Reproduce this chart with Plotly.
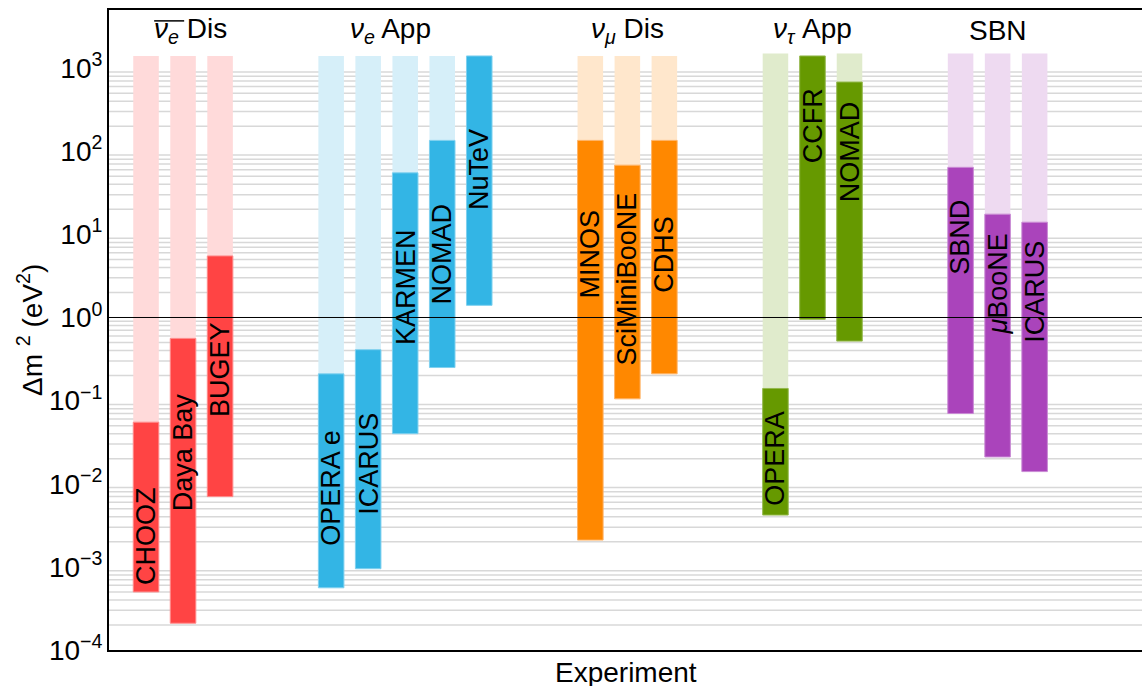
import math
import plotly.graph_objects as go

# Oscillation channels and the experiments in each
groups = ["<i>ν</i><sub><i>e</i></sub> Dis", "<i>ν</i><sub><i>e</i></sub> App",
          "<i>ν</i><sub><i>μ</i></sub> Dis", "<i>ν</i><sub><i>τ</i></sub> App", "SBN"]
experiments = [
    ["CHOOZ", "Daya Bay", "BUGEY"],
    ["OPERA e", "ICARUS", "KARMEN", "NOMAD", "NuTeV"],
    ["MINOS", "SciMiniBooNE", "CDHS"],
    ["OPERA", "CCFR", "NOMAD"],
    ["SBND", "<i>μ</i>BooNE", "ICARUS"],
]
# Δm² coverage (eV²): sensitive range and upper reach of the faded band
dm2_low = [
    [5.0e-4, 2.1e-4, 7.0e-3],
    [5.6e-4, 9.5e-4, 0.040, 0.25, 1.4],
    [2.1e-3, 0.105, 0.21],
    [4.2e-3, 0.95, 0.52],
    [0.070, 0.021, 0.014],
]
dm2_high = [
    [0.055, 0.56, 5.5],
    [0.21, 0.41, 55, 135, 1400],
    [135, 68, 135],
    [0.14, 1400, 680],
    [64, 17.5, 14],
]
dm2_reach = [
    [1400, 1400, 1400],
    [1400, 1400, 1400, 1400, 1400],
    [1400, 1400, 1400],
    [1500, None, 1500],
    [1500, 1500, 1500],
]

solid = ["#FF4444", "#33B5E5", "#FF8800", "#669900", "#AA44BB"]
faded = ["#FFDADA", "#D6EFF9", "#FFE7CC", "#E0EBCC", "#EEDAF1"]
edge = ["#FF8A8A", "#7FD0EF", "#FFB366", "#94B84D", "#C98AD4"]
label_drop = [1.37, 1.37, 1.37, 0.84, 0.84]   # decades below the top of the bar
title_nudge = [7, -15, 0, 0, 0]               # px offset of each channel heading

FONT = "Liberation Sans, Arial, sans-serif"
GAP = 2

fig = go.Figure()
annotations = []
shapes = []

slot = 0
centers = []
for g, names in enumerate(experiments):
    xs = [slot + i for i in range(len(names))]
    centers.append(sum(xs) / len(xs))
    slot += len(names) + GAP
    lo, hi, top = dm2_low[g], dm2_high[g], dm2_reach[g]
    fx = [x for x, t in zip(xs, top) if t is not None]
    fb = [h for h, t in zip(hi, top) if t is not None]
    fl = [t - h for h, t in zip(hi, top) if t is not None]
    fig.add_trace(go.Bar(x=fx, base=fb, y=fl, width=0.69,
                         marker=dict(color=faded[g], line=dict(width=0)),
                         showlegend=False, hoverinfo="skip"))
    fig.add_trace(go.Bar(x=xs, base=lo, y=[h - l for l, h in zip(lo, hi)], width=0.69,
                         marker=dict(color=solid[g], line=dict(color=edge[g], width=1)),
                         showlegend=False, name=groups[g]))
    for x, name, h in zip(xs, names, hi):
        annotations.append(dict(x=x, y=math.log10(h) - label_drop[g], xref="x", yref="y",
                                text=name, textangle=-90, showarrow=False,
                                font=dict(family=FONT, size=27, color="black")))
    annotations.append(dict(x=centers[-1], y=1, xref="x", yref="paper", yshift=-20,
                            xshift=title_nudge[g], xanchor="center",
                            yanchor="middle", text=groups[g], showarrow=False,
                            font=dict(family=FONT, size=28, color="black")))

# light minor grid between decades
for e in range(-4, 3):
    for k in range(2, 10):
        v = k * 10 ** e
        shapes.append(dict(type="line", xref="paper", x0=0, x1=1, yref="y", y0=v, y1=v,
                           line=dict(color="#D8D8D8", width=1.5), layer="below"))
# reference line at 1 eV²
shapes.append(dict(type="line", xref="paper", x0=0, x1=1, yref="y", y0=1, y1=1,
                   line=dict(color="black", width=1), layer="above"))
# bar over the anti-neutrino symbol
shapes.append(dict(type="line", xref="x", x0=0.22, x1=1.03, yref="paper", y0=0.983, y1=0.983,
                   line=dict(color="black", width=1.5)))

annotations.append(dict(x=0.5, y=0, xref="paper", yref="paper", yanchor="top", yshift=-5,
                        xanchor="center",
                        text="Experiment", showarrow=False,
                        font=dict(family=FONT, size=28, color="black")))
annotations.append(dict(x=0, y=0.5, xref="paper", yref="paper", xshift=-79, textangle=-90,
                        xanchor="center", yanchor="middle",
                        text="Δm <sup>2</sup> (eV<sup>2</sup>)", showarrow=False,
                        font=dict(family=FONT, size=28, color="black")))

exps = list(range(-4, 4))
tick_vals = [10.0 ** e for e in exps]
tick_text = ["10<sup>%s</sup>" % (str(e).replace("-", "−")) for e in exps]

fig.update_layout(
    width=1142, height=686,
    margin=dict(l=109, r=0, t=10, b=36),
    plot_bgcolor="white", paper_bgcolor="white",
    barmode="overlay",
    font=dict(family=FONT, size=28, color="black"),
    annotations=annotations, shapes=shapes,
    xaxis=dict(range=[-1, 26.9], showline=True, linecolor="black", linewidth=2, mirror=True,
               showticklabels=False, showgrid=False, zeroline=False, ticks=""),
    yaxis=dict(type="log", range=[-4, math.log10(5000)], tickvals=tick_vals, ticktext=tick_text,
               showline=True, linecolor="black", linewidth=2, showgrid=False, zeroline=False,
               ticks="", ticklabelstandoff=-1, tickfont=dict(family=FONT, size=28, color="black")),
)

fig.write_html("out.html")
